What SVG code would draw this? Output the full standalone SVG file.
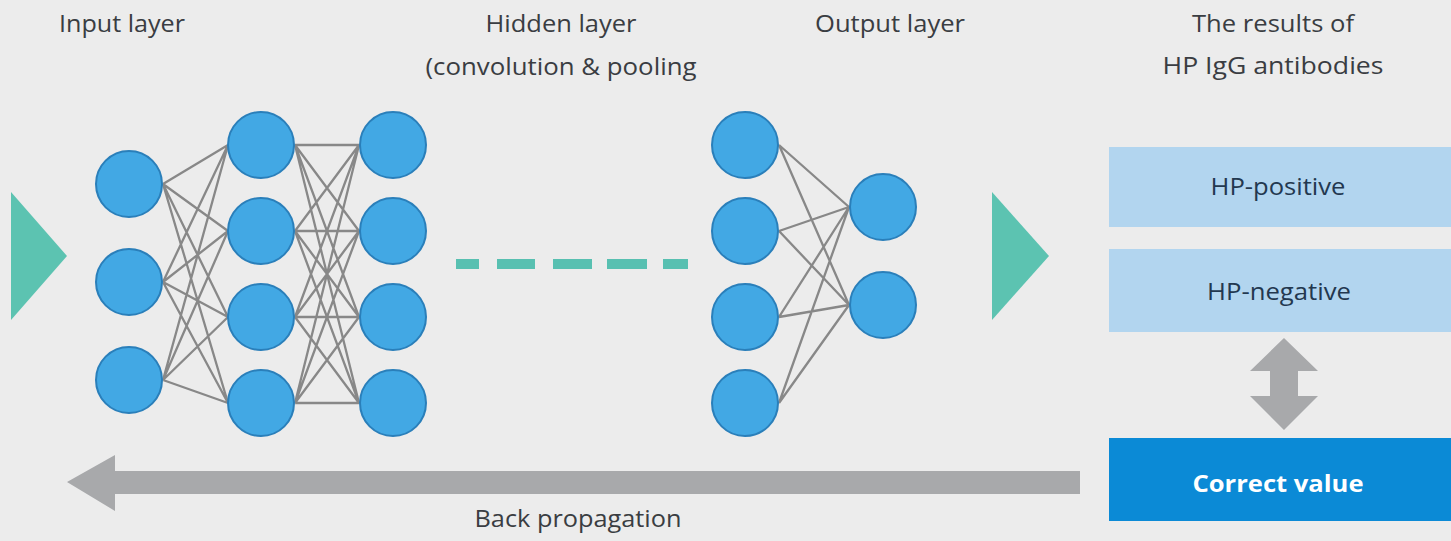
<svg xmlns="http://www.w3.org/2000/svg" width="1451" height="541" viewBox="0 0 1451 541">
  <style>
    .bg { fill: #ececec; }
    .node { fill: #42a8e4; stroke: #2a7fba; stroke-width: 2; }
    .edge { stroke: #888888; stroke-width: 2.3; fill: none; }
    .flow { fill: #5cc3b1; }
    .dash { stroke: #58c0b1; stroke-width: 10; fill: none; }
    .grey { fill: #a8a9ab; }
    .head { font-family: "Open Sans", "Liberation Sans", sans-serif; font-size: 24px; fill: #3a3d42; text-anchor: middle; }
    .res { fill: #b2d5ef; }
    .resText { font-family: "Open Sans", "Liberation Sans", sans-serif; font-size: 24px; fill: #23384f; text-anchor: middle; }
    .truth { fill: #0b8ad6; }
    .truthText { font-family: "Open Sans", "Liberation Sans", sans-serif; font-size: 24px; font-weight: bold; fill: #ffffff; text-anchor: middle; }
  </style>

  <rect class="bg" x="0" y="0" width="1451" height="541"/>

  <!-- layer captions -->
  <g id="captions">
    <text class="head" x="122" y="32" textLength="126" lengthAdjust="spacingAndGlyphs">Input layer</text>
    <text class="head" x="561" y="32" textLength="151" lengthAdjust="spacingAndGlyphs">Hidden layer</text>
    <text class="head" x="561" y="75" textLength="271" lengthAdjust="spacingAndGlyphs">(convolution &amp; pooling</text>
    <text class="head" x="890" y="32" textLength="150" lengthAdjust="spacingAndGlyphs">Output layer</text>
    <text class="head" x="1273" y="32" textLength="162" lengthAdjust="spacingAndGlyphs">The results of</text>
    <text class="head" x="1273" y="74" textLength="221" lengthAdjust="spacingAndGlyphs">HP IgG antibodies</text>
  </g>

  <!-- connectors -->
  <g id="connectors">
    <!-- input -> hidden 1 -->
    <path class="edge" d="
      M163 184 L228 145 M163 184 L228 231 M163 184 L228 317 M163 184 L228 403
      M163 282 L228 145 M163 282 L228 231 M163 282 L228 317 M163 282 L228 403
      M163 380 L228 145 M163 380 L228 231 M163 380 L228 317 M163 380 L228 403"/>
    <!-- hidden 1 -> hidden 2 -->
    <path class="edge" d="
      M295 145 L359 145 M295 145 L359 231 M295 145 L359 317 M295 145 L359 403
      M295 231 L359 145 M295 231 L359 231 M295 231 L359 317 M295 231 L359 403
      M295 317 L359 145 M295 317 L359 231 M295 317 L359 317 M295 317 L359 403
      M295 403 L359 145 M295 403 L359 231 M295 403 L359 317 M295 403 L359 403"/>
    <!-- last hidden -> output -->
    <path class="edge" d="
      M779 145 L849 207 M779 145 L849 305
      M779 231 L849 207 M779 231 L849 305
      M779 317 L849 207 M779 317 L849 305
      M779 403 L849 207 M779 403 L849 305"/>
    <!-- elided hidden layers -->
    <path class="dash" d="M456 264 H479 M497 264 H535 M553 264 H592 M607 264 H647 M663 264 H688"/>
    <!-- data flow -->
    <polygon class="flow" points="11,192 67,256 11,320"/>
    <polygon class="flow" points="992,192 1049,256 992,320"/>
    <!-- comparison with correct value -->
    <polygon class="grey" points="1284,338 1318,371 1298,371 1298,396 1318,396 1284,430 1250,396 1270,396 1270,371 1250,371"/>
    <!-- back propagation -->
    <polygon class="grey" points="67,482 115,455 115,471 1080,471 1080,494 115,494 115,511"/>
    <text class="head" x="578" y="527" textLength="207" lengthAdjust="spacingAndGlyphs">Back propagation</text>
  </g>

  <!-- input layer -->
  <g id="input-layer">
    <circle class="node" cx="129" cy="184" r="33"/>
    <circle class="node" cx="129" cy="282" r="33"/>
    <circle class="node" cx="129" cy="380" r="33"/>
  </g>

  <!-- hidden layer 1 -->
  <g id="hidden-1">
    <circle class="node" cx="261" cy="145" r="33"/>
    <circle class="node" cx="261" cy="231" r="33"/>
    <circle class="node" cx="261" cy="317" r="33"/>
    <circle class="node" cx="261" cy="403" r="33"/>
  </g>

  <!-- hidden layer 2 -->
  <g id="hidden-2">
    <circle class="node" cx="393" cy="145" r="33"/>
    <circle class="node" cx="393" cy="231" r="33"/>
    <circle class="node" cx="393" cy="317" r="33"/>
    <circle class="node" cx="393" cy="403" r="33"/>
  </g>

  <!-- last hidden layer -->
  <g id="hidden-n">
    <circle class="node" cx="745" cy="145" r="33"/>
    <circle class="node" cx="745" cy="231" r="33"/>
    <circle class="node" cx="745" cy="317" r="33"/>
    <circle class="node" cx="745" cy="403" r="33"/>
  </g>

  <!-- output layer -->
  <g id="output-layer">
    <circle class="node" cx="883" cy="207" r="33"/>
    <circle class="node" cx="883" cy="305" r="33"/>
  </g>

  <!-- result boxes -->
  <g id="hp-positive">
    <rect class="res" x="1109" y="147" width="342" height="80"/>
    <text class="resText" x="1278" y="195" textLength="135" lengthAdjust="spacingAndGlyphs">HP-positive</text>
  </g>
  <g id="hp-negative">
    <rect class="res" x="1109" y="249" width="342" height="83"/>
    <text class="resText" x="1279" y="300" textLength="144" lengthAdjust="spacingAndGlyphs">HP-negative</text>
  </g>
  <g id="correct-value">
    <rect class="truth" x="1109" y="438" width="342" height="83"/>
    <text class="truthText" x="1278" y="492" textLength="171" lengthAdjust="spacingAndGlyphs">Correct value</text>
  </g>
</svg>
